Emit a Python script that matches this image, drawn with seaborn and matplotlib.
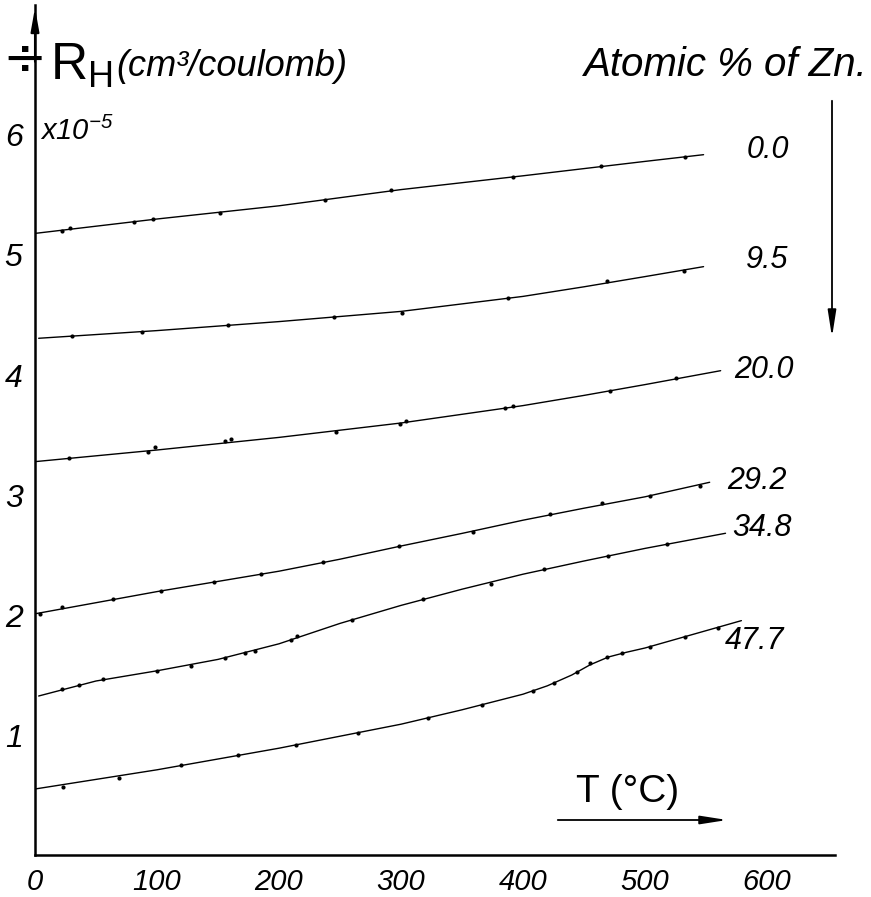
import matplotlib
matplotlib.use("Agg")
import matplotlib.pyplot as plt
import pandas as pd
import seaborn as sns

# Hall coefficient -R_H (x1e-5 cm^3/coulomb) vs temperature, Cu-Zn alloys
zn_labels = ["0.0", "9.5", "20.0", "29.2", "34.8", "47.7"]

# measured points (T in degC, -R_H)
t_00 = [22, 29, 81, 97, 152, 238, 292, 392, 464, 533]
r_00 = [5.20, 5.225, 5.275, 5.297, 5.352, 5.456, 5.54, 5.647, 5.742, 5.819]
t_95 = [30, 88, 158, 245, 301, 388, 469, 532]
r_95 = [4.327, 4.36, 4.417, 4.48, 4.52, 4.645, 4.786, 4.869]
t_200 = [28, 93, 98, 156, 161, 247, 299, 304, 385, 392, 471, 525]
r_200 = [3.306, 3.356, 3.398, 3.453, 3.469, 3.528, 3.592, 3.617, 3.728, 3.739, 3.869, 3.975]
t_292 = [4, 22, 64, 103, 147, 185, 236, 298, 359, 422, 465, 504, 545]
r_292 = [2.01, 2.07, 2.133, 2.202, 2.273, 2.342, 2.439, 2.575, 2.694, 2.839, 2.931, 2.992, 3.078]
t_348 = [22, 36, 56, 100, 128, 156, 172, 180, 210, 215, 260, 318, 374, 417, 470, 518]
r_348 = [1.381, 1.414, 1.464, 1.533, 1.578, 1.644, 1.683, 1.70, 1.789, 1.827, 1.958, 2.13,
         2.255, 2.381, 2.492, 2.592]
t_477 = [23, 69, 120, 166, 214, 265, 322, 366, 408, 425, 444, 455, 469, 481, 504, 533, 560]
r_477 = [0.57, 0.644, 0.75, 0.833, 0.914, 1.014, 1.139, 1.25, 1.367, 1.431, 1.528, 1.597,
         1.653, 1.68, 1.731, 1.819, 1.894]

ct_00 = [0, 100, 200, 300, 400, 500, 548]
cr_00 = [5.18, 5.30, 5.41, 5.545, 5.66, 5.78, 5.836]
ct_95 = [3, 100, 200, 300, 400, 450, 500, 548]
cr_95 = [4.306, 4.37, 4.445, 4.53, 4.655, 4.735, 4.82, 4.903]
ct_200 = [0, 100, 200, 300, 400, 450, 500, 562]
cr_200 = [3.278, 3.375, 3.48, 3.60, 3.745, 3.83, 3.92, 4.036]
ct_292 = [0, 100, 150, 200, 250, 300, 350, 400, 450, 500, 553]
cr_292 = [2.01, 2.195, 2.28, 2.365, 2.465, 2.575, 2.68, 2.79, 2.89, 2.985, 3.106]
ct_348 = [3, 50, 100, 150, 200, 250, 300, 350, 400, 450, 500, 566]
cr_348 = [1.325, 1.45, 1.535, 1.63, 1.76, 1.93, 2.08, 2.215, 2.34, 2.45, 2.555, 2.681]
ct_477 = [0, 100, 200, 300, 350, 400, 420, 440, 455, 470, 485, 500, 579]
cr_477 = [0.55, 0.71, 0.89, 1.09, 1.21, 1.34, 1.41, 1.50, 1.585, 1.65, 1.69, 1.725, 1.953]

dots_t = [t_00, t_95, t_200, t_292, t_348, t_477]
dots_r = [r_00, r_95, r_200, r_292, r_348, r_477]
curve_t = [ct_00, ct_95, ct_200, ct_292, ct_348, ct_477]
curve_r = [cr_00, cr_95, cr_200, cr_292, cr_348, cr_477]

W, H = 871, 897


def px(x, y):
    """reference pixel position -> figure fraction"""
    return x / W, 1 - y / H


sns.set_style("white")
plt.rcParams["font.family"] = ["Liberation Sans", "DejaVu Sans"]
plt.rcParams["font.style"] = "italic"
plt.rcParams["mathtext.default"] = "regular"
plt.rcParams["text.color"] = "black"
plt.rcParams["xtick.color"] = "black"
plt.rcParams["ytick.color"] = "black"
plt.rcParams["axes.edgecolor"] = "black"

fig = plt.figure(figsize=(W / 100, H / 100), dpi=100)
ax = fig.add_axes([35 / W, 42 / H, 800 / W, 850 / H])

for i, lab in enumerate(zn_labels):
    curve = pd.DataFrame({"T": curve_t[i], "R": curve_r[i]})
    pts = pd.DataFrame({"T": dots_t[i], "R": dots_r[i]})
    sns.lineplot(data=curve, x="T", y="R", ax=ax, color="black", lw=1.0,
                 sort=False, estimator=None)
    sns.scatterplot(data=pts, x="T", y="R", ax=ax, color="black", s=9,
                    linewidth=0, zorder=3)

ax.set_xlim(0, 800 / 1.22)
ax.set_ylim(0, 850 / 120)
ax.set_xlabel("")
ax.set_ylabel("")
ax.set_xticks([0, 100, 200, 300, 400, 500, 600])
ax.set_yticks([1, 2, 3, 4, 5, 6])
ax.tick_params(axis="x", direction="in", length=9, width=1, labelsize=21, pad=9)
ax.tick_params(axis="y", direction="inout", length=14, width=1, labelsize=23, pad=2)
for s in ["top", "right"]:
    ax.spines[s].set_visible(False)
ax.spines["left"].set_linewidth(1.8)
ax.spines["bottom"].set_linewidth(1.8)
ax.annotate("", xy=(0, 1.0), xytext=(0, 0.93), xycoords="axes fraction",
            arrowprops=dict(arrowstyle="-|>,head_length=1.4,head_width=0.25",
                            color="black", lw=1.5))

# axis annotations
fig.text(*px(24, 60), "÷", fontsize=38, ha="center", va="center", style="normal",
         family="DejaVu Sans")
fig.text(*px(50, 80), "R$_H$", fontsize=37, ha="left", va="baseline", style="normal")
fig.text(*px(116, 76), "(cm³/coulomb)", fontsize=26, ha="left", va="baseline")
fig.text(*px(40, 140), "x10$^{-5}$", fontsize=21, ha="left", va="baseline")
fig.text(*px(868, 65), "Atomic % of Zn.", fontsize=29, ha="right", va="center")
ax.annotate("", xy=px(832, 340), xytext=px(832, 98), xycoords="figure fraction",
            arrowprops=dict(arrowstyle="-|>,head_length=1.6,head_width=0.25",
                            color="black", lw=1.3))

label_pos = [(768, 150), (767, 260), (764, 370), (757, 481), (762, 528), (755, 641)]
for lab, (x, y) in zip(zn_labels, label_pos):
    fig.text(*px(x, y), lab, fontsize=22, ha="center", va="center")

fig.text(*px(628, 792), "T (°C)", fontsize=28, ha="center", va="center", style="normal")
ax.annotate("", xy=px(730, 820), xytext=px(555, 820), xycoords="figure fraction",
            arrowprops=dict(arrowstyle="-|>,head_length=1.6,head_width=0.25",
                            color="black", lw=1.3))

fig.savefig("out.png", dpi=100)
